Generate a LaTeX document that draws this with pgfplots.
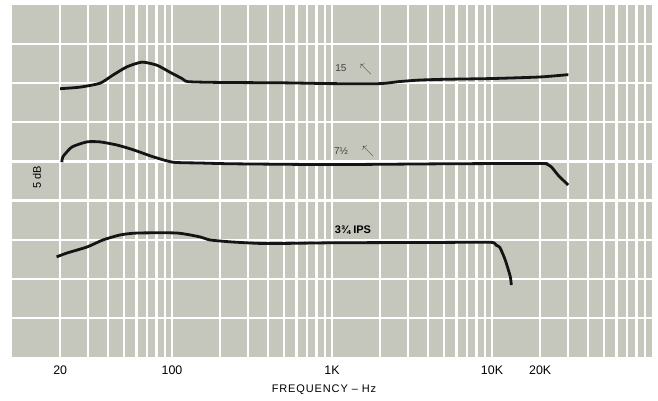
\documentclass[border=0pt]{standalone}
\usepackage{fontspec}
\setmainfont{Liberation Sans}
\usepackage{pgfplots}
\pgfplotsset{compat=1.18}
\definecolor{paper}{RGB}{197,199,189}
\definecolor{curve}{RGB}{20,20,20}

\begin{document}
\begin{tikzpicture}
\begin{axis}[
    scale only axis,
    width=320pt, height=176pt,
    xmode=log,
    xmin=10, xmax=100000,
    ymin=0, ymax=45,
    axis background/.style={fill=paper},
    axis line style={draw=none},
    major tick length=0pt, minor tick length=0pt,
    xtick={20,100,1000,10000,20000},
    xticklabels={\textnormal{20},\textnormal{100},\textnormal{1K},\textnormal{10K},\textnormal{20K}},
    minor xtick={30,40,50,60,70,80,90,200,300,400,500,600,700,800,900,
                 2000,3000,4000,5000,6000,7000,8000,9000,
                 30000,40000,50000,60000,70000,80000,90000},
    ytick={5,10,15,20,25,30,35,40},
    yticklabels={},
    xmajorgrids, xminorgrids, ymajorgrids,
    grid style={white, line width=1.1pt},
    minor grid style={white, line width=1.1pt},
    xticklabel style={font=\fontsize{6.2}{7}\selectfont, yshift=-1pt},
    xlabel={FREQUENCY -- Hz},
    xlabel style={font=\fontsize{5.5}{7}\addfontfeature{LetterSpace=8}\selectfont,
                  at={(axis description cs:0.4875,0)}, anchor=center, yshift=-16.5pt},
    clip=false,
]
% 15 IPS
\addplot[curve, line width=1.4pt, smooth, tension=0.35] coordinates {
    (20,34.3) (26.6,34.5) (35.5,35.0) (42.8,36.05) (52.3,37.1) (64.9,37.7)
    (80.6,37.3) (97.2,36.4) (115.5,35.6) (126,35.2) (200,35.1) (500,35.05)
    (1000,34.95) (2000,34.95) (2600,35.2) (3500,35.4) (5000,35.5) (10000,35.6)
    (20000,35.8) (30000,36.1)
};
% 7 1/2 IPS
\addplot[curve, line width=1.4pt, smooth, tension=0.35] coordinates {
    (20.5,24.9) (20.8,25.6) (23.7,26.85) (29.4,27.5) (35.5,27.5) (45.3,27.1)
    (57.1,26.5) (76.1,25.6) (101.5,24.9) (150,24.8) (240,24.7) (1000,24.6)
    (5000,24.7) (20000,24.75) (22000,24.65) (23500,24.3) (26000,23.2) (29900,22.0)
};
% 3 3/4 IPS
\addplot[curve, line width=1.4pt, smooth, tension=0.35] coordinates {
    (19,12.8) (22.1,13.3) (29.4,14.06) (37,14.96) (47.3,15.6) (60.4,15.85)
    (107.5,15.85) (150,15.35) (173,14.96) (240,14.7) (392,14.5) (1000,14.6)
    (5000,14.65) (9860,14.66) (10600,14.3) (11200,14.0) (12100,12.4)
    (13000,10.3) (13200,9.2)
};
\node[font=\fontsize{5}{6}\selectfont, text=black!75] at (axis cs:1138,36.9) {15};
\node[text=black!75, scale=0.6] at (axis cs:1631,36.8) {$\nwarrow$};
\node[font=\fontsize{5}{6}\selectfont, text=black!75] at (axis cs:1138,26.3) {7½};
\node[text=black!75, scale=0.6] at (axis cs:1679,26.3) {$\nwarrow$};
\node[font=\bfseries\fontsize{5.5}{6}\selectfont] at (axis cs:1352,16.2) {3¾ IPS};
\node[font=\fontsize{5.5}{6}\selectfont, rotate=90] at (axis cs:14.3,23.0) {5 dB};
\end{axis}
\pgfresetboundingbox
\path (-6pt,-22pt) rectangle (323pt,178.5pt);
\end{tikzpicture}
\end{document}
